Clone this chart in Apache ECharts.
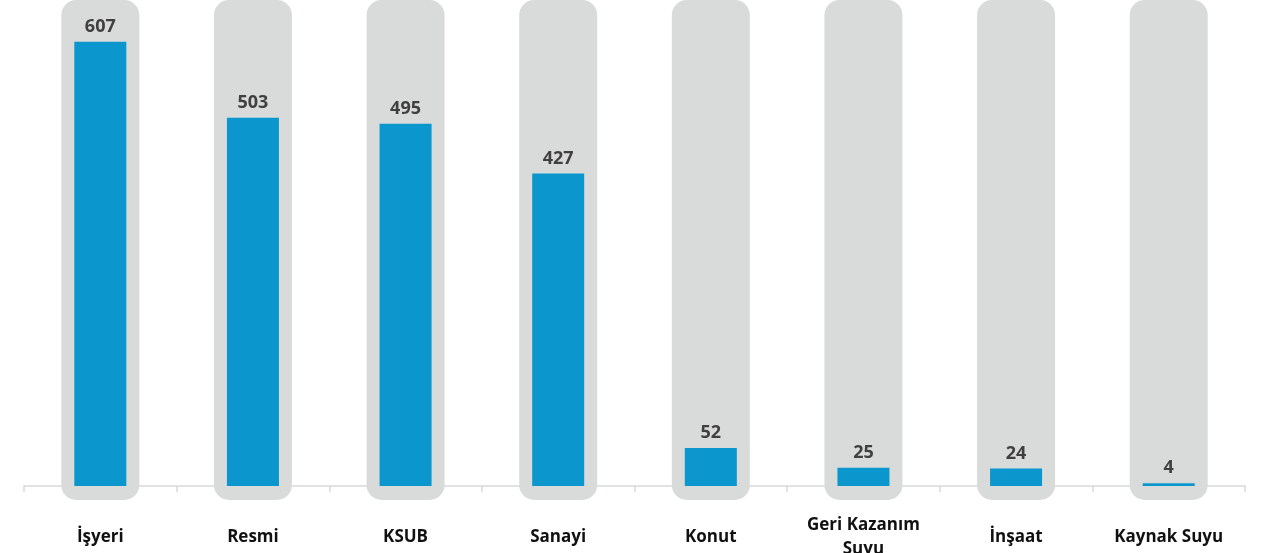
<!DOCTYPE html>
<html>
<head>
<meta charset="utf-8">
<script src="https://cdn.jsdelivr.net/npm/echarts@6/dist/echarts.min.js"></script>
<style>
  html, body { margin: 0; padding: 0; background: #fff; }
  #chart { width: 1277px; height: 553px; }
</style>
</head>
<body>
<div id="chart"></div>
<script>
// kategoriler ve değerler
var categories = ['İşyeri', 'Resmi', 'KSUB', 'Sanayi', 'Konut', 'Geri Kazanım\nSuyu', 'İnşaat', 'Kaynak Suyu'];
var values = [607, 503, 495, 427, 52, 25, 24, 4];
// gri arka plan sütunlarının üst / alt değerleri
var bgTop = 664;
var bgBottom = -19;

var bgData = categories.map(function (c, i) { return [i, bgTop, bgBottom]; });

var font = '"Open Sans", sans-serif';

var option = {
    animation: false,
    grid: { left: 24, right: 32, top: 0, bottom: 53, outerBoundsMode: 'none', containLabel: false },
    xAxis: {
        type: 'category',
        data: categories,
        axisLine: { onZero: true, lineStyle: { color: '#d9d9d9', width: 1.5 } },
        axisTick: { show: true, length: 6, interval: 0, lineStyle: { color: '#d9d9d9', width: 1.5 } },
        axisLabel: {
            interval: 0,
            margin: 37,
            verticalAlign: 'middle',
            lineHeight: 24,
            color: '#111',
            fontWeight: 'bold',
            fontSize: 17,
            fontFamily: font
        }
    },
    yAxis: {
        type: 'value',
        min: bgBottom,
        max: bgTop,
        show: false,
        splitLine: { show: false }
    },
    series: [{
        // gri yuvarlatılmış arka plan
        type: 'custom',
        z: 1,
        silent: true,
        data: bgData,
        renderItem: function (params, api) {
            var top = api.coord([api.value(0), api.value(1)]);
            var bottom = api.coord([api.value(0), api.value(2)]);
            var w = 78;
            return {
                type: 'rect',
                shape: { x: top[0] - w / 2, y: top[1], width: w, height: bottom[1] - top[1], r: 15 },
                style: { fill: '#d9dada' }
            };
        }
    }, {
        type: 'bar',
        z: 3,
        data: values,
        barWidth: 52,
        itemStyle: { color: '#0b96cd' },
        label: {
            show: true,
            position: 'top',
            distance: 6,
            color: '#404040',
            fontWeight: 'bold',
            fontSize: 18,
            fontFamily: font
        }
    }]
};

var myChart = echarts.init(document.getElementById('chart'));
myChart.setOption(option);
</script>
</body>
</html>
